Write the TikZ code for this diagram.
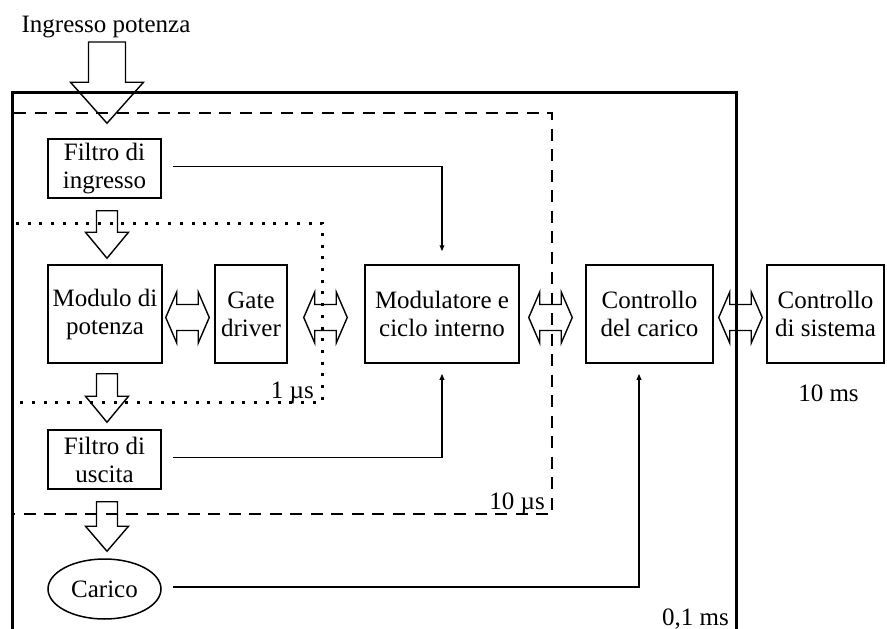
\documentclass[tikz,border=0pt]{standalone}
\usepackage{fontspec}
\setmainfont{Liberation Serif}
\usetikzlibrary{arrows.meta,calc,shapes.geometric}

\tikzset{
  blk/.style={draw, line width=1.5pt, inner sep=0pt, align=center,
              font=\fontsize{25}{28}\selectfont},
  box/.style={blk, rectangle},
  lbl/.style={inner sep=0pt, font=\fontsize{25}{28}\selectfont},
  blockarrow/.style={draw, line width=1.4pt, line join=miter},
  sig/.style={line width=1.5pt, -{Triangle[length=6pt,width=4.5pt]}},
  frame/.style={line width=3pt},
  dashframe/.style={line width=2.8pt, dash pattern=on 12pt off 8.5pt},
  dotframe/.style={line width=3pt, dash pattern=on 3pt off 8.7pt},
}

% hollow downward block arrow: top point, tip point, shaft half width, head half width, head length
\newcommand{\DownBlock}[5]{%
  \draw[blockarrow] let \p1=#1, \p2=#2 in
    (\x2-#3,\y1) -- (\x2+#3,\y1) -- (\x2+#3,\y2+#5) -- (\x2+#4,\y2+#5)
    -- (\x2,\y2) -- (\x2-#4,\y2+#5) -- (\x2-#3,\y2+#5) -- cycle;}

% hollow two-way horizontal block arrow between a left and a right point
\newcommand{\SideBlock}[2]{%
  \draw[blockarrow] let \p1=#1, \p2=#2 in
    (\x1,\y1) -- (\x1+11pt,\y1+25.5pt) -- (\x1+11pt,\y1+13pt) -- (\x2-11pt,\y1+13pt)
    -- (\x2-11pt,\y1+25.5pt) -- (\x2,\y1) -- (\x2-11pt,\y1-25.5pt) -- (\x2-11pt,\y1-13pt)
    -- (\x1+11pt,\y1-13pt) -- (\x1+11pt,\y1-25.5pt) -- cycle;}

\begin{document}
\begin{tikzpicture}[x=1pt,y=-1pt]
\useasboundingbox (0,0) rectangle (887,629);

% time-scale frames
\draw[frame] (12,629) -- (12,92) -- (736,92) -- (736,629);
\draw[dashframe] (14,113) -- (552,113) -- (552,514) -- (14,514);
\draw[dotframe] (16,223) -- (322,223) -- (322,402) -- (16,402);

% blocks
\node[box, minimum width=113pt, minimum height=59pt] (fin)  at (104.5,168.5) {Filtro di\\ingresso};
\node[box, minimum width=114pt, minimum height=98pt] (mod)  at (105,314) {Modulo di\\potenza};
\node[box, minimum width=72pt,  minimum height=98pt] (gate) at (251,314) {Gate\\driver};
\node[box, minimum width=154pt, minimum height=98pt] (modu) at (442,314) {Modulatore e\\ciclo interno};
\node[box, minimum width=127pt, minimum height=98pt] (cload) at (649.5,314) {Controllo\\del carico};
\node[box, minimum width=117pt, minimum height=98pt] (csys) at (825.5,314) {Controllo\\di sistema};
\node[box, minimum width=113pt, minimum height=59pt] (fout) at (104.5,459.5) {Filtro di\\uscita};
\node[blk, ellipse, minimum width=113pt, minimum height=60pt] (load) at (104.5,589) {Carico};

% labels
\node[lbl, anchor=base] (tin) at (106,32) {Ingresso potenza};
\node[lbl, anchor=base east] (t1) at (314,398) {1 µs};
\node[lbl, anchor=base east] (t2) at (545,509) {10 µs};
\node[lbl, anchor=base] (t3) at (828.5,401) {10 ms};
\node[lbl, anchor=base east] (t4) at (729,625) {0,1 ms};

% power flow
\coordinate (pin) at (107,42);
\DownBlock{(pin)}{([xshift=2.5pt,yshift=15pt]fin.north)}{18.5pt}{36.5pt}{41pt}
\DownBlock{([xshift=2.5pt,yshift=-12pt]fin.south)}{([xshift=2pt,yshift=6pt]mod.north)}{10.5pt}{21.5pt}{26pt}
\DownBlock{([xshift=2pt,yshift=-10pt]mod.south)}{([xshift=2.5pt,yshift=7pt]fout.north)}{10.5pt}{21.5pt}{26pt}
\DownBlock{([xshift=2.5pt,yshift=-12pt]fout.south)}{([xshift=2.5pt,yshift=7pt]load.north)}{10.5pt}{21.5pt}{25pt}

% bidirectional links
\SideBlock{([xshift=3pt,yshift=-3.5pt]mod.east)}{([xshift=-5pt]gate.west)}
\SideBlock{([xshift=16pt,yshift=-3.5pt]gate.east)}{([xshift=-17pt]modu.west)}
\SideBlock{([xshift=9pt,yshift=-3.5pt]modu.east)}{([xshift=-13pt]cload.west)}
\SideBlock{([xshift=5pt,yshift=-3.5pt]cload.east)}{([xshift=-4pt]csys.west)}

% signal feedback
\draw[sig] ([xshift=11pt,yshift=2pt]fin.east) -| ([yshift=13pt]modu.north);
\draw[sig] ([xshift=11pt,yshift=2pt]fout.east) -| ([yshift=-10pt]modu.south);
\draw[sig] ([xshift=11pt,yshift=2pt]load.east) -| ([xshift=-10.5pt,yshift=-10pt]cload.south);
\end{tikzpicture}
\end{document}
